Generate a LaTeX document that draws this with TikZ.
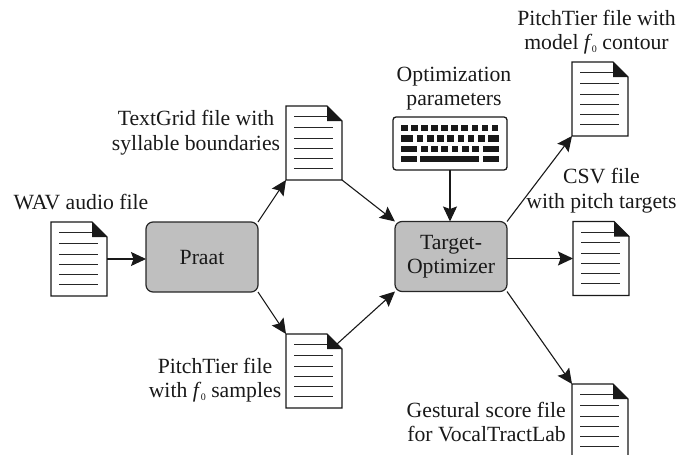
\documentclass[tikz,border=0pt]{standalone}
\usepackage{fontspec}
\setmainfont{Liberation Serif}
\usetikzlibrary{arrows.meta,calc}
\newcommand{\docfile}[3]{%
  \node[docbody] (#1) at (#2,#3) {};
  \draw[docline,line join=miter,fill=white] (#1.north west) -- ++(41,0) -- ++(15,15) |- (#1.south west) -- cycle;
  \fill[black!90] ($(#1.north west)+(41,0)$) -- ++(15,15) -- ++(-15,0) -- cycle;
  \foreach \yy/\ww in {10.5/33,21/39,32/39,42/39,52/39,62/39}{
    \draw[docrule] ($(#1.north west)+(8,\yy)$) -- ++(\ww,0);}
}
\tikzset{
  x=1pt,y=-1pt,
  docbody/.style={minimum width=56pt,minimum height=74pt,inner sep=0pt,outer sep=0pt},
  docline/.style={draw=black!90,line width=1.2pt},
  docrule/.style={draw=black!85,line width=1pt},
  procbox/.style={draw=black!85,line width=1.2pt,fill=black!25,rounded corners=7pt,minimum width=112pt,minimum height=70pt,align=center,inner sep=0pt,outer sep=0pt,text=black!90,font=\fontsize{21.7}{24}\selectfont},
  lbl/.style={align=center,inner sep=0pt,text=black!90,font=\fontsize{21.7}{24.5}\selectfont},
  conn/.style={draw=black!90,line width=1.1pt,-{Stealth[length=15pt,width=14pt,inset=2.5pt]}},
  key/.style={fill=black!90,draw=none},
}
\newcommand{\fz}{\textit{f}\kern-0.5pt\raisebox{-2.5pt}{\fontsize{10}{10}\selectfont 0}}
\begin{document}
\begin{tikzpicture}
\useasboundingbox (0,0) rectangle (678,455);
\docfile{wav}{79}{259}
\docfile{tg}{314}{143}
\docfile{pt}{314}{371}
\docfile{ptm}{600}{99}
\docfile{csv}{601}{258.5}
\begin{scope}
\clip (500,375) rectangle (678,455);
\docfile{ges}{600}{421}
\end{scope}
\node[procbox] (praat) at (202,257) {Praat};
\node[procbox] (opt) at (451,256.5) {Target-\\Optimizer};
\node[lbl] (lwav) at (81,202) {WAV audio file};
\node[lbl] (ltg) at (196,132.5) {TextGrid file with\\syllable boundaries};
\node[lbl] (lpt) at (215,380) {PitchTier file\\with \fz{} samples};
\node[lbl] (lptm) at (596.5,32) {PitchTier file with\\model \fz{} contour};
\node[lbl] (lcsv) at (601.5,190.5) {CSV file\\with pitch targets};
\node[lbl,align=right,anchor=east] (lges) at (566,422) {Gestural score file\\for VocalTractLab};
\node[lbl] (lopt) at (454,88.5) {Optimization\\parameters};
% keyboard
\node[draw=black!90,line width=1.3pt,rounded corners=3pt,minimum width=114pt,minimum height=53pt,inner sep=0pt,outer sep=0pt] (kb) at (450,143.5) {};
\foreach \i in {0,...,9}{\fill[key] (400.8+\i*10.1,125) rectangle ++(6.7,5.8);}
\fill[key] (400.8,135) rectangle ++(12,6.7);
\foreach \i in {0,...,6}{\fill[key] (416.7+\i*10.2,135) rectangle ++(6.7,6.7);}
\fill[key] (488.3,135) rectangle ++(10.5,6.7);
\fill[key] (400.8,145.7) rectangle ++(16.5,6.7);
\foreach \i in {0,...,5}{\fill[key] (421+\i*10.2,145.7) rectangle ++(6.7,6.7);}
\fill[key] (482.7,145.7) rectangle ++(16.3,6.7);
\fill[key] (400.8,156) rectangle ++(16.5,5.8);
\fill[key] (420,156) rectangle ++(59.3,5.8);
\fill[key] (482.7,156) rectangle ++(16.3,5.8);
% connectors
\draw[conn] (wav.east) -- (wav.east -| praat.west);
\draw[conn] (praat.north east) -- (tg.south west);
\draw[conn] (tg.south east) -- (opt.north west);
\draw[conn] (praat.south east) -- (pt.north west);
\draw[conn] ($(pt.north east)+(-5,10)$) -- (opt.south west);
\draw[conn] (kb.south) -- (kb.south |- opt.north);
\draw[conn] (opt.north east) -- (ptm.south west);
\draw[conn] (csv.west -| opt.east) -- (csv.west);
\draw[conn] (opt.south east) -- (ges.north west);
\end{tikzpicture}
\end{document}
